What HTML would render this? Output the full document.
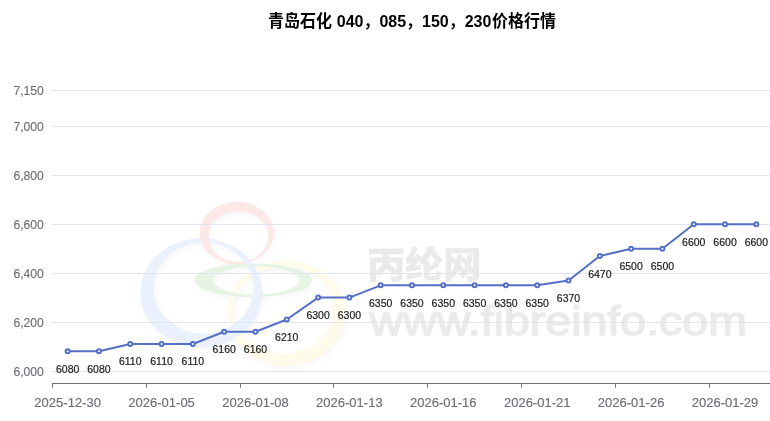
<!DOCTYPE html>
<html lang="zh-CN"><head><meta charset="utf-8"><title>青岛石化 040，085，150，230价格行情</title>
<style>
html,body{margin:0;padding:0;background:#fff;}
body{width:770px;height:421px;overflow:hidden;font-family:"Liberation Sans","Noto Sans CJK SC",sans-serif;}
svg{display:block}
.yl{font-size:12px;fill:#6E7079;stroke:#6E7079;stroke-width:0.15px;text-anchor:end}
.xl{font-size:12px;fill:#6E7079;stroke:#6E7079;stroke-width:0.15px;text-anchor:middle}
.dl{font-size:10.5px;fill:#222;stroke:#222;stroke-width:0.2px;text-anchor:middle}
.ttl{font-size:16px;font-weight:bold;fill:#000;text-anchor:middle}
</style></head><body>
<svg width="770" height="421" viewBox="0 0 770 421" font-family="'Liberation Sans','Noto Sans CJK SC',sans-serif">
<rect width="770" height="421" fill="#fff"/>

<g id="wm">
<defs><filter id="bl" x="-20%" y="-20%" width="140%" height="140%"><feGaussianBlur stdDeviation="2.5"/></filter></defs>
<path d="M227.50,313.10a58.75,52.90 0 1,0 117.50,0a58.75,52.90 0 1,0 -117.50,0zM233.10,309.85a50.20,43.65 0 1,0 100.40,0a50.20,43.65 0 1,0 -100.40,0z" fill="#000" fill-opacity="0.03" fill-rule="evenodd" filter="url(#bl)" transform="translate(1.5,3)"/>
<path d="M194.50,280.25a58.65,16.75 0 1,0 117.30,0a58.65,16.75 0 1,0 -117.30,0zM213.00,280.50a43.15,14.00 0 1,0 86.30,0a43.15,14.00 0 1,0 -86.30,0z" fill="#000" fill-opacity="0.03" fill-rule="evenodd" filter="url(#bl)" transform="translate(1.5,3)"/>
<path d="M199.90,233.10a36.80,31.40 0 1,0 73.60,0a36.80,31.40 0 1,0 -73.60,0zM208.20,236.60a30.05,25.40 0 1,0 60.10,0a30.05,25.40 0 1,0 -60.10,0z" fill="#000" fill-opacity="0.03" fill-rule="evenodd" filter="url(#bl)" transform="translate(1.5,3)"/>
<path d="M140.30,292.70a60.95,54.30 0 1,0 121.90,0a60.95,54.30 0 1,0 -121.90,0zM153.70,288.00a49.85,45.60 0 1,0 99.70,0a49.85,45.60 0 1,0 -99.70,0z" fill="#000" fill-opacity="0.03" fill-rule="evenodd" filter="url(#bl)" transform="translate(1.5,3)"/>
<path d="M227.50,313.10a58.75,52.90 0 1,0 117.50,0a58.75,52.90 0 1,0 -117.50,0zM233.10,309.85a50.20,43.65 0 1,0 100.40,0a50.20,43.65 0 1,0 -100.40,0z" fill="#fefbea" fill-rule="evenodd"/>
<path d="M194.50,280.25a58.65,16.75 0 1,0 117.30,0a58.65,16.75 0 1,0 -117.30,0zM213.00,280.50a43.15,14.00 0 1,0 86.30,0a43.15,14.00 0 1,0 -86.30,0z" fill="#e6f4e4" fill-rule="evenodd"/>
<path d="M199.90,233.10a36.80,31.40 0 1,0 73.60,0a36.80,31.40 0 1,0 -73.60,0zM208.20,236.60a30.05,25.40 0 1,0 60.10,0a30.05,25.40 0 1,0 -60.10,0z" fill="#fbe8e7" fill-rule="evenodd"/>
<path d="M140.30,292.70a60.95,54.30 0 1,0 121.90,0a60.95,54.30 0 1,0 -121.90,0zM153.70,288.00a49.85,45.60 0 1,0 99.70,0a49.85,45.60 0 1,0 -99.70,0z" fill="#eaf1fd" fill-rule="evenodd"/>
<clipPath id="cp"><rect x="195" y="228" width="22" height="26"/></clipPath>
<path d="M199.90,233.10a36.80,31.40 0 1,0 73.60,0a36.80,31.40 0 1,0 -73.60,0zM208.20,236.60a30.05,25.40 0 1,0 60.10,0a30.05,25.40 0 1,0 -60.10,0z" fill="#fbe8e7" fill-rule="evenodd" clip-path="url(#cp)"/>
<g opacity="0.078" fill="#000" stroke="#000" stroke-linejoin="round">
<text x="367.2" y="277.6" font-size="36.5" font-weight="bold" stroke-width="1.2" textLength="114" lengthAdjust="spacingAndGlyphs">丙纶网</text>
<text x="369.5" y="334.7" font-size="41" stroke-width="1.5" textLength="377.5" lengthAdjust="spacingAndGlyphs">www.fibreinfo.com</text>
</g>
</g>
<path d="M52,371.5H770" stroke="#E0E6F1" stroke-width="1" fill="none"/>
<path d="M52,322.5H770" stroke="#E0E6F1" stroke-width="1" fill="none"/>
<path d="M52,273.5H770" stroke="#E0E6F1" stroke-width="1" fill="none"/>
<path d="M52,224.5H770" stroke="#E0E6F1" stroke-width="1" fill="none"/>
<path d="M52,175.5H770" stroke="#E0E6F1" stroke-width="1" fill="none"/>
<path d="M52,126.5H770" stroke="#E0E6F1" stroke-width="1" fill="none"/>
<path d="M52,90.5H770" stroke="#E0E6F1" stroke-width="1" fill="none"/>
<path d="M52,383.5H770" stroke="#6E7079" stroke-width="1" fill="none"/>
<path d="M52.5,383.5V387.7" stroke="#6E7079" stroke-width="1" fill="none"/>
<path d="M146.5,383.5V387.7" stroke="#6E7079" stroke-width="1" fill="none"/>
<path d="M240.5,383.5V387.7" stroke="#6E7079" stroke-width="1" fill="none"/>
<path d="M333.5,383.5V387.7" stroke="#6E7079" stroke-width="1" fill="none"/>
<path d="M427.5,383.5V387.7" stroke="#6E7079" stroke-width="1" fill="none"/>
<path d="M521.5,383.5V387.7" stroke="#6E7079" stroke-width="1" fill="none"/>
<path d="M615.5,383.5V387.7" stroke="#6E7079" stroke-width="1" fill="none"/>
<path d="M709.5,383.5V387.7" stroke="#6E7079" stroke-width="1" fill="none"/>
<text class="yl" x="43.8" y="375.7" textLength="30.4" lengthAdjust="spacingAndGlyphs">6,000</text>
<text class="yl" x="43.8" y="326.7" textLength="30.4" lengthAdjust="spacingAndGlyphs">6,200</text>
<text class="yl" x="43.8" y="277.7" textLength="30.4" lengthAdjust="spacingAndGlyphs">6,400</text>
<text class="yl" x="43.8" y="228.7" textLength="30.4" lengthAdjust="spacingAndGlyphs">6,600</text>
<text class="yl" x="43.8" y="179.7" textLength="30.4" lengthAdjust="spacingAndGlyphs">6,800</text>
<text class="yl" x="43.8" y="130.7" textLength="30.4" lengthAdjust="spacingAndGlyphs">7,000</text>
<text class="yl" x="43.8" y="94.7" textLength="30.4" lengthAdjust="spacingAndGlyphs">7,150</text>
<text class="xl" x="67.65" y="407" textLength="66.6" lengthAdjust="spacingAndGlyphs">2025-12-30</text>
<text class="xl" x="161.57" y="407" textLength="66.6" lengthAdjust="spacingAndGlyphs">2026-01-05</text>
<text class="xl" x="255.48" y="407" textLength="66.6" lengthAdjust="spacingAndGlyphs">2026-01-08</text>
<text class="xl" x="349.39" y="407" textLength="66.6" lengthAdjust="spacingAndGlyphs">2026-01-13</text>
<text class="xl" x="443.30" y="407" textLength="66.6" lengthAdjust="spacingAndGlyphs">2026-01-16</text>
<text class="xl" x="537.22" y="407" textLength="66.6" lengthAdjust="spacingAndGlyphs">2026-01-21</text>
<text class="xl" x="631.13" y="407" textLength="66.6" lengthAdjust="spacingAndGlyphs">2026-01-26</text>
<text class="xl" x="725.04" y="407" textLength="66.6" lengthAdjust="spacingAndGlyphs">2026-01-29</text>
<g class="ttl" style="text-anchor:start">
<text x="267.9" y="26.7" textLength="64" lengthAdjust="spacing" transform="translate(0,28.9) scale(1,1.07) translate(0,-28.9)">青岛石化</text>
<text x="332.4" y="26.7" textLength="159" lengthAdjust="spacing" xml:space="preserve" style="white-space:pre"> 040，085，150，230</text>
<text x="491.9" y="26.7" textLength="64" lengthAdjust="spacing" transform="translate(0,28.9) scale(1,1.07) translate(0,-28.9)">价格行情</text>
</g>
<polyline fill="none" stroke="#5470C6" stroke-width="2" stroke-linejoin="bevel" points="67.65,351.29 98.96,351.29 130.26,343.97 161.57,343.97 192.87,343.97 224.17,331.76 255.48,331.76 286.78,319.55 318.09,297.57 349.39,297.57 380.70,285.36 412.00,285.36 443.30,285.36 474.61,285.36 505.91,285.36 537.22,285.36 568.52,280.48 599.83,256.06 631.13,248.73 662.43,248.73 693.74,224.31 725.04,224.31 756.35,224.31"/>
<circle cx="67.65" cy="351.29" r="2" fill="#fff" stroke="#5470C6" stroke-width="2"/>
<circle cx="98.96" cy="351.29" r="2" fill="#fff" stroke="#5470C6" stroke-width="2"/>
<circle cx="130.26" cy="343.97" r="2" fill="#fff" stroke="#5470C6" stroke-width="2"/>
<circle cx="161.57" cy="343.97" r="2" fill="#fff" stroke="#5470C6" stroke-width="2"/>
<circle cx="192.87" cy="343.97" r="2" fill="#fff" stroke="#5470C6" stroke-width="2"/>
<circle cx="224.17" cy="331.76" r="2" fill="#fff" stroke="#5470C6" stroke-width="2"/>
<circle cx="255.48" cy="331.76" r="2" fill="#fff" stroke="#5470C6" stroke-width="2"/>
<circle cx="286.78" cy="319.55" r="2" fill="#fff" stroke="#5470C6" stroke-width="2"/>
<circle cx="318.09" cy="297.57" r="2" fill="#fff" stroke="#5470C6" stroke-width="2"/>
<circle cx="349.39" cy="297.57" r="2" fill="#fff" stroke="#5470C6" stroke-width="2"/>
<circle cx="380.70" cy="285.36" r="2" fill="#fff" stroke="#5470C6" stroke-width="2"/>
<circle cx="412.00" cy="285.36" r="2" fill="#fff" stroke="#5470C6" stroke-width="2"/>
<circle cx="443.30" cy="285.36" r="2" fill="#fff" stroke="#5470C6" stroke-width="2"/>
<circle cx="474.61" cy="285.36" r="2" fill="#fff" stroke="#5470C6" stroke-width="2"/>
<circle cx="505.91" cy="285.36" r="2" fill="#fff" stroke="#5470C6" stroke-width="2"/>
<circle cx="537.22" cy="285.36" r="2" fill="#fff" stroke="#5470C6" stroke-width="2"/>
<circle cx="568.52" cy="280.48" r="2" fill="#fff" stroke="#5470C6" stroke-width="2"/>
<circle cx="599.83" cy="256.06" r="2" fill="#fff" stroke="#5470C6" stroke-width="2"/>
<circle cx="631.13" cy="248.73" r="2" fill="#fff" stroke="#5470C6" stroke-width="2"/>
<circle cx="662.43" cy="248.73" r="2" fill="#fff" stroke="#5470C6" stroke-width="2"/>
<circle cx="693.74" cy="224.31" r="2" fill="#fff" stroke="#5470C6" stroke-width="2"/>
<circle cx="725.04" cy="224.31" r="2" fill="#fff" stroke="#5470C6" stroke-width="2"/>
<circle cx="756.35" cy="224.31" r="2" fill="#fff" stroke="#5470C6" stroke-width="2"/>
<text class="dl" x="67.65" y="373">6080</text>
<text class="dl" x="98.96" y="373">6080</text>
<text class="dl" x="130.26" y="365">6110</text>
<text class="dl" x="161.57" y="365">6110</text>
<text class="dl" x="192.87" y="365">6110</text>
<text class="dl" x="224.17" y="353">6160</text>
<text class="dl" x="255.48" y="353">6160</text>
<text class="dl" x="286.78" y="341">6210</text>
<text class="dl" x="318.09" y="319">6300</text>
<text class="dl" x="349.39" y="319">6300</text>
<text class="dl" x="380.70" y="307">6350</text>
<text class="dl" x="412.00" y="307">6350</text>
<text class="dl" x="443.30" y="307">6350</text>
<text class="dl" x="474.61" y="307">6350</text>
<text class="dl" x="505.91" y="307">6350</text>
<text class="dl" x="537.22" y="307">6350</text>
<text class="dl" x="568.52" y="302">6370</text>
<text class="dl" x="599.83" y="278">6470</text>
<text class="dl" x="631.13" y="270">6500</text>
<text class="dl" x="662.43" y="270">6500</text>
<text class="dl" x="693.74" y="246">6600</text>
<text class="dl" x="725.04" y="246">6600</text>
<text class="dl" x="756.35" y="246">6600</text>
</svg>
</body></html>
